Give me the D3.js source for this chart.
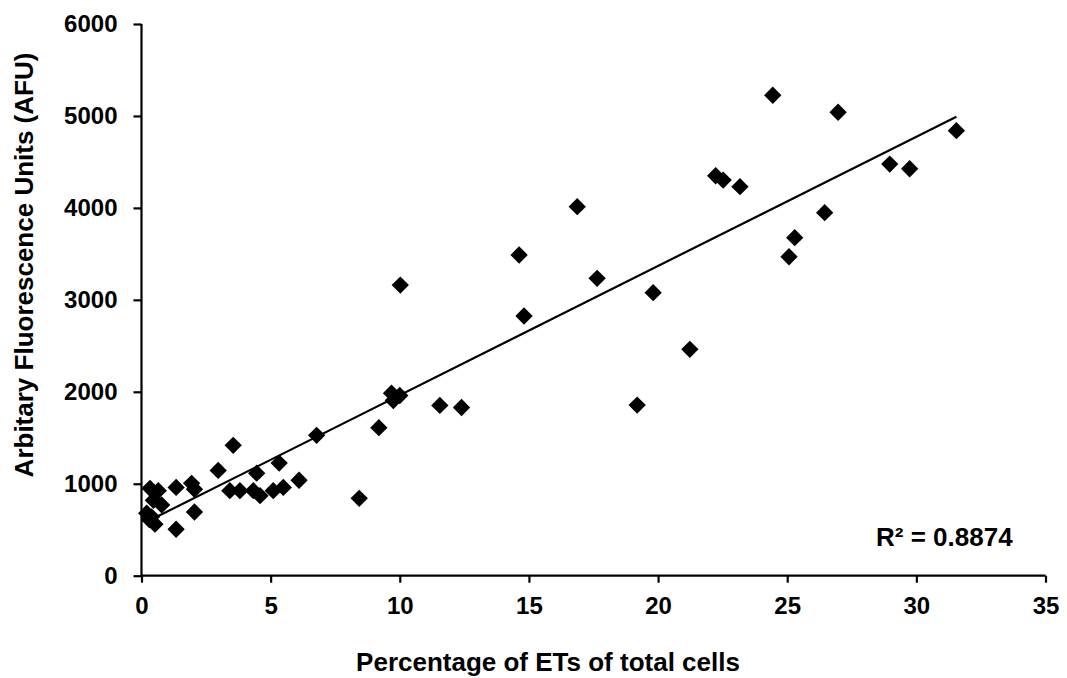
<!DOCTYPE html>
<html>
<head>
<meta charset="utf-8">
<script src="https://cdn.jsdelivr.net/npm/d3@7"></script>
<style>
  html, body { margin: 0; padding: 0; background: #fff; }
  text { font-family: "Liberation Sans", Arial, sans-serif; font-weight: bold; fill: #000; }
</style>
</head>
<body>
<svg id="chart" width="1067" height="678"></svg>
<script>
// ---- data ----
const pctETs = [
  0.33, 0.65, 0.46, 0.78, 0.20, 0.39, 0.52, 0.30,
  1.34, 1.34, 1.94, 2.05, 2.05, 2.97, 3.55, 3.42, 3.81, 4.33, 4.46, 4.59,
  5.10, 5.33, 5.49, 6.10, 6.78, 8.43, 9.19, 9.68, 9.75, 10.0, 10.02,
  11.55, 12.39, 14.62, 14.81, 16.87, 17.64, 19.19, 19.81, 21.23,
  22.23, 22.52, 23.17, 24.44, 25.07, 25.29, 26.45, 26.97, 28.97, 29.74, 31.55
];
const afu = [
  950, 925, 820, 770, 680, 640, 560, 610,
  960, 505, 1005, 940, 693, 1145, 1418, 925, 925, 925, 1115, 870,
  925, 1225, 960, 1038, 1527, 841, 1610, 1985, 1905, 1960, 3161,
  1852, 1829, 3488, 2824, 4013, 3234, 1856, 3078, 2462,
  4350, 4303, 4231, 5225, 3469, 3676, 3948, 5040, 4477, 4426, 4840
];
const xTicks = [0, 5, 10, 15, 20, 25, 30, 35];
const yTicks = [0, 1000, 2000, 3000, 4000, 5000, 6000];
const xTitle = "Percentage of ETs of total cells";
const yTitle = "Arbitary Fluorescence Units (AFU)";
const r2Label = "R\u00B2 = 0.8874";

// ---- layout ----
const svg = d3.select("#chart");
const x = d3.scaleLinear().domain([0, 35]).range([141.5, 1045.5]);
const y = d3.scaleLinear().domain([0, 6000]).range([575.7, 24]);

const points = pctETs.map((v, i) => ({ x: v, y: afu[i] }));

// least squares trendline
const mx = d3.mean(points, d => d.x), my = d3.mean(points, d => d.y);
const sxy = d3.sum(points, d => (d.x - mx) * (d.y - my));
const sxx = d3.sum(points, d => (d.x - mx) ** 2);
const slope = sxy / sxx, intercept = my - slope * mx;
const [xmin, xmax] = d3.extent(points, d => d.x);

// axes
const xAxis = d3.axisBottom(x).tickValues(xTicks).tickSize(7).tickPadding(14).tickFormat(d3.format("d"));
const yAxis = d3.axisLeft(y).tickValues(yTicks).tickSize(8).tickPadding(16).tickFormat(d3.format("d"));

const gx = svg.append("g").attr("transform", `translate(0,${y(0)})`).call(xAxis);
const gy = svg.append("g").attr("transform", `translate(${x(0)},0)`).call(yAxis);
[gx, gy].forEach(g => {
  g.select(".domain").attr("stroke", "#000").attr("stroke-width", 2.2);
  g.selectAll(".tick line").attr("stroke", "#000").attr("stroke-width", 2.2);
  g.selectAll(".tick text").style("font-size", "24px").style("font-weight", "bold")
    .style("font-family", "'Liberation Sans', Arial, sans-serif").attr("fill", "#000");
});
gx.select(".domain").attr("d", `M${x(0)},0H${x(35)}`);
gy.select(".domain").attr("d", `M0,${y(0)}V${y(6000)}`);

// trendline
svg.append("line")
  .attr("x1", x(xmin)).attr("y1", y(intercept + slope * xmin))
  .attr("x2", x(xmax)).attr("y2", y(intercept + slope * xmax))
  .attr("stroke", "#000").attr("stroke-width", 2.2);

// markers
svg.append("g").selectAll("path").data(points).join("path")
  .attr("d", d3.symbol(d3.symbolSquare, 150))
  .attr("transform", d => `translate(${x(d.x)},${y(d.y)}) rotate(45)`)
  .attr("fill", "#000");

// titles
svg.append("text").attr("x", 548).attr("y", 671).attr("text-anchor", "middle")
  .style("font-size", "26px").text(xTitle);
svg.append("text").attr("transform", `translate(33,265) rotate(-90)`).attr("text-anchor", "middle")
  .style("font-size", "26px").text(yTitle);
svg.append("text").attr("x", 876).attr("y", 546).style("font-size", "26px").text(r2Label);
</script>
</body>
</html>
